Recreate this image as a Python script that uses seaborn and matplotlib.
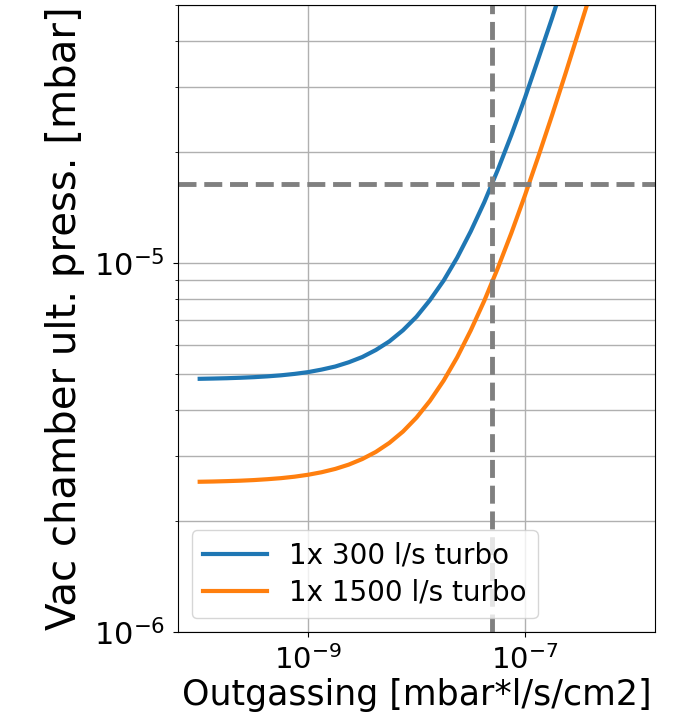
import numpy as np
import pandas as pd
import matplotlib
matplotlib.use("Agg")
import matplotlib.pyplot as plt
from matplotlib.ticker import NullLocator
import seaborn as sns

# outgassing rate [mbar*l/s/cm2]
outgassing = [1.00e-10, 1.33e-10, 1.78e-10, 2.37e-10, 3.16e-10, 4.22e-10, 5.62e-10, 7.50e-10,
              1.00e-9, 1.33e-9, 1.78e-9, 2.37e-9, 3.16e-9, 4.22e-9, 5.62e-9, 7.50e-9,
              1.00e-8, 1.33e-8, 1.78e-8, 2.37e-8, 3.16e-8, 4.22e-8, 5.62e-8, 7.50e-8,
              1.00e-7, 1.33e-7, 1.78e-7, 2.37e-7, 3.16e-7, 4.22e-7, 5.62e-7, 7.50e-7,
              1.00e-6]

# ultimate pressure [mbar]
p_300 = [4.853e-6, 4.861e-6, 4.871e-6, 4.885e-6, 4.903e-6, 4.928e-6, 4.960e-6, 5.004e-6,
         5.06e-6, 5.14e-6, 5.24e-6, 5.38e-6, 5.56e-6, 5.81e-6, 6.13e-6, 6.57e-6,
         7.15e-6, 7.93e-6, 8.96e-6, 1.033e-5, 1.217e-5, 1.461e-5, 1.788e-5, 2.223e-5,
         2.80e-5, 3.58e-5, 4.61e-5, 5.98e-5, 7.82e-5, 1.026e-4, 1.353e-4, 1.788e-4,
         2.37e-4]
p_1500 = [2.553e-6, 2.557e-6, 2.563e-6, 2.570e-6, 2.580e-6, 2.594e-6, 2.611e-6, 2.635e-6,
          2.667e-6, 2.709e-6, 2.766e-6, 2.841e-6, 2.942e-6, 3.076e-6, 3.254e-6, 3.492e-6,
          3.81e-6, 4.23e-6, 4.80e-6, 5.55e-6, 6.56e-6, 7.90e-6, 9.68e-6, 1.206e-5,
          1.524e-5, 1.944e-5, 2.514e-5, 3.264e-5, 4.274e-5, 5.614e-5, 7.394e-5, 9.774e-5,
          1.30e-4]

label_300 = "1x 300 l/s turbo"
label_1500 = "1x 1500 l/s turbo"

# reference lines
outgassing_spec = 5e-8
pressure_spec = 1.64e-5

df = pd.DataFrame({"outgassing": outgassing, "p_300": p_300, "p_1500": p_1500})

fig = plt.figure(figsize=(6.73, 7.23), dpi=100)
ax = fig.add_axes([0.2645, 0.1259, 0.7088, 0.8672])
ax.set_xscale("log")
ax.set_yscale("log")

sns.lineplot(data=df, x="outgassing", y="p_300", ax=ax, color="tab:blue",
             linewidth=3, label=label_300)
sns.lineplot(data=df, x="outgassing", y="p_1500", ax=ax, color="tab:orange",
             linewidth=3, label=label_1500)

ax.axvline(outgassing_spec, color="gray", linestyle="--", linewidth=3.5)
ax.axhline(pressure_spec, color="gray", linestyle="--", linewidth=3.5)

ax.set_xlim(10**-10.2, 10**-5.8)
ax.set_ylim(1e-6, 5e-5)
ax.set_xticks([1e-9, 1e-7])
ax.xaxis.set_minor_locator(NullLocator())

ax.grid(True, which="major", color="#b0b0b0", linewidth=1)
ax.yaxis.grid(True, which="minor", color="#b0b0b0", linewidth=1)
ax.tick_params(axis="x", which="major", labelsize=21, pad=6)
ax.tick_params(axis="y", which="major", labelsize=22, pad=6)

ax.set_xlabel("Outgassing [mbar*l/s/cm2]", fontsize=25, labelpad=2)
ax.set_ylabel("Vac chamber ult. press. [mbar]", fontsize=29, labelpad=6)
ax.legend(loc="lower left", fontsize=20, handlelength=2.3, labelspacing=0.35)

fig.savefig("out.png", dpi=100)
